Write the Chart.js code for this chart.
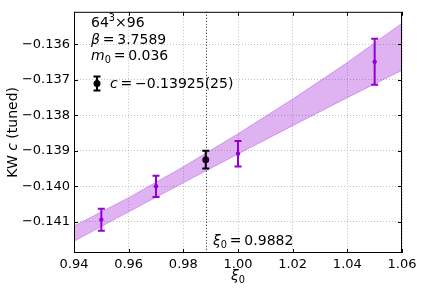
<!DOCTYPE html>
<html>
<head>
<meta charset="utf-8">
<script src="https://cdn.jsdelivr.net/npm/chart.js@4/dist/chart.umd.min.js"></script>
<style>
  html, body { margin: 0; padding: 0; background: #fff; }
  #wrap { width: 423px; height: 294px; }
</style>
</head>
<body>
<div id="wrap"><canvas id="chart" width="423" height="294"></canvas></div>
<script>
// ---- data ----
const xiPts  = [0.95, 0.97, 1.00, 1.05];
const cPts   = [-0.14094, -0.14000, -0.13908, -0.13649];
const cErr   = [0.00031, 0.00030, 0.00036, 0.00065];

const xi0    = 0.9882;
const c0     = -0.13925;
const c0Err  = 0.00025;

// fit band edges
const bandXi = [0.94, 0.96, 0.98, 1.00, 1.02, 1.04, 1.06];
const bandHi = [-0.14112, -0.14032, -0.13945, -0.13852, -0.13754, -0.13651, -0.13540];
const bandLo = [-0.14155, -0.14072, -0.13990, -0.13909, -0.13829, -0.13750, -0.13673];

const xTicks = [0.94, 0.96, 0.98, 1.00, 1.02, 1.04, 1.06];
const yTicks = [-0.141, -0.140, -0.139, -0.138, -0.137, -0.136];

const PURPLE = '#9400d3';
const FONT = '"DejaVu Sans", sans-serif';

// ---- helpers ----
function richWidth(ctx, parts, size) {
  let w = 0;
  parts.forEach(p => {
    const s = (p.sub || p.sup) ? size * 0.7 : size;
    ctx.font = (p.it ? 'italic ' : '') + s + 'px ' + FONT;
    w += ctx.measureText(p.t).width;
  });
  return w;
}

function drawRich(ctx, x, y, parts, size) {
  ctx.textAlign = 'left';
  ctx.textBaseline = 'alphabetic';
  parts.forEach(p => {
    const s = (p.sub || p.sup) ? size * 0.7 : size;
    ctx.font = (p.it ? 'italic ' : '') + s + 'px ' + FONT;
    const dy = p.sub ? size * 0.2 : (p.sup ? -size * 0.4 : 0);
    ctx.fillText(p.t, x, y + dy);
    x += ctx.measureText(p.t).width;
  });
  return x;
}

function errBar(ctx, x, yTop, yBot, cap, color) {
  ctx.strokeStyle = color;
  ctx.lineWidth = 2;
  ctx.beginPath();
  ctx.moveTo(x, yTop); ctx.lineTo(x, yBot);
  ctx.moveTo(x - cap, yTop); ctx.lineTo(x + cap, yTop);
  ctx.moveTo(x - cap, yBot); ctx.lineTo(x + cap, yBot);
  ctx.stroke();
}

// ---- custom drawing: ξ0 line, error bars, frame, inward ticks, text ----
const decorPlugin = {
  id: 'decor',
  beforeDatasetsDraw(chart) {
    const { ctx, chartArea: a, scales: { x } } = chart;
    const px = Math.round(x.getPixelForValue(xi0)) + 0.5;
    ctx.save();
    ctx.strokeStyle = '#222';
    ctx.lineWidth = 1;
    ctx.setLineDash([1, 2]);
    ctx.beginPath();
    ctx.moveTo(px, a.top); ctx.lineTo(px, a.bottom);
    ctx.stroke();
    ctx.restore();
  },
  afterDatasetsDraw(chart) {
    const { ctx, scales: { x, y } } = chart;
    ctx.save();
    xiPts.forEach((xi, i) => {
      errBar(ctx, x.getPixelForValue(xi),
        y.getPixelForValue(cPts[i] + cErr[i]),
        y.getPixelForValue(cPts[i] - cErr[i]), 3.5, PURPLE);
    });
    errBar(ctx, x.getPixelForValue(xi0),
      y.getPixelForValue(c0 + c0Err),
      y.getPixelForValue(c0 - c0Err), 3.5, '#000');
    ctx.restore();
  },
  afterDraw(chart) {
    const { ctx, chartArea: a, scales: { x, y } } = chart;
    ctx.save();
    // frame
    ctx.strokeStyle = '#000';
    ctx.lineWidth = 1;
    ctx.strokeRect(a.left + 0.5, a.top + 0.5, a.right - a.left - 1, a.bottom - a.top - 1);
    // inward ticks on all sides
    ctx.beginPath();
    xTicks.forEach(v => {
      const px = Math.round(x.getPixelForValue(v)) + 0.5;
      ctx.moveTo(px, a.bottom); ctx.lineTo(px, a.bottom - 4);
      ctx.moveTo(px, a.top); ctx.lineTo(px, a.top + 4);
    });
    yTicks.forEach(v => {
      const py = Math.round(y.getPixelForValue(v)) + 0.5;
      ctx.moveTo(a.left, py); ctx.lineTo(a.left + 4, py);
      ctx.moveTo(a.right, py); ctx.lineTo(a.right - 4, py);
    });
    ctx.stroke();

    // annotation text
    ctx.fillStyle = '#000';
    drawRich(ctx, 91, 27, [{ t: '64' }, { t: '3', sup: true }, { t: '×96' }], 14);
    drawRich(ctx, 91, 43.5, [{ t: 'β', it: true }, { t: '\u2009=\u20093.7589' }], 14);
    drawRich(ctx, 91, 60, [{ t: 'm', it: true }, { t: '0', sub: true }, { t: '\u2009=\u20090.036' }], 14);

    // legend entry
    errBar(ctx, 97, 76.5, 90.5, 3.5, '#000');
    ctx.beginPath();
    ctx.arc(97, 83.5, 3.5, 0, Math.PI * 2);
    ctx.fill();
    drawRich(ctx, 110, 88, [{ t: 'c', it: true }, { t: '\u2009=\u2009−0.13925(25)' }], 14);

    // ξ0 label
    drawRich(ctx, 213, 245, [{ t: 'ξ', it: true }, { t: '0', sub: true }, { t: '\u2009=\u20090.9882' }], 14);

    // x axis title
    const xt = [{ t: 'ξ', it: true }, { t: '0', sub: true }];
    const xc = (a.left + a.right) / 2;
    drawRich(ctx, xc - richWidth(ctx, xt, 14) / 2, 280, xt, 14);

    // y axis title
    const yt = [{ t: 'KW ' }, { t: 'c', it: true }, { t: ' (tuned)' }];
    ctx.translate(17, (a.top + a.bottom) / 2);
    ctx.rotate(-Math.PI / 2);
    drawRich(ctx, -richWidth(ctx, yt, 14) / 2, 0, yt, 14);
    ctx.restore();
  }
};

new Chart(document.getElementById('chart'), {
  type: 'scatter',
  data: {
    datasets: [
      {
        type: 'line',
        data: bandXi.map((v, i) => ({ x: v, y: bandLo[i] })),
        borderColor: 'rgba(148,0,211,0.3)',
        borderWidth: 1,
        pointRadius: 0,
        fill: false,
        tension: 0,
      },
      {
        type: 'line',
        data: bandXi.map((v, i) => ({ x: v, y: bandHi[i] })),
        borderColor: 'rgba(148,0,211,0.3)',
        backgroundColor: 'rgba(148,0,211,0.3)',
        borderWidth: 1,
        pointRadius: 0,
        fill: '-1',
        tension: 0,
      },
      {
        data: xiPts.map((v, i) => ({ x: v, y: cPts[i] })),
        pointRadius: 2.2,
        pointBackgroundColor: PURPLE,
        pointBorderWidth: 0,
      },
      {
        data: [{ x: xi0, y: c0 }],
        pointRadius: 3.5,
        pointBackgroundColor: '#000',
        pointBorderWidth: 0,
      },
    ],
  },
  options: {
    responsive: false,
    animation: false,
    devicePixelRatio: 1,
    layout: { padding: { top: 6, right: 21, left: 0, bottom: 0 } },
    plugins: { legend: { display: false }, tooltip: { enabled: false } },
    scales: {
      x: {
        type: 'linear',
        min: 0.94,
        max: 1.06,
        afterBuildTicks: axis => { axis.ticks = xTicks.map(v => ({ value: v })); },
        afterFit: scale => { scale.height = 41; },
        grid: { color: '#b0b0b0', lineWidth: 0.8, drawTicks: false },
        border: { display: false, dash: [1, 2] },
        ticks: {
          color: '#000',
          padding: 4,
          font: { family: 'DejaVu Sans', size: 13 },
          callback: v => v.toFixed(2),
        },
      },
      y: {
        type: 'linear',
        min: -0.14188,
        max: -0.13508,
        afterBuildTicks: axis => { axis.ticks = yTicks.map(v => ({ value: v })); },
        afterFit: scale => { scale.width = 74; },
        grid: { color: '#b0b0b0', lineWidth: 0.8, drawTicks: false },
        border: { display: false, dash: [1, 2] },
        ticks: {
          color: '#000',
          padding: 4,
          font: { family: 'DejaVu Sans', size: 13 },
          callback: v => '−' + Math.abs(v).toFixed(3),
        },
      },
    },
  },
  plugins: [decorPlugin],
});
</script>
</body>
</html>
